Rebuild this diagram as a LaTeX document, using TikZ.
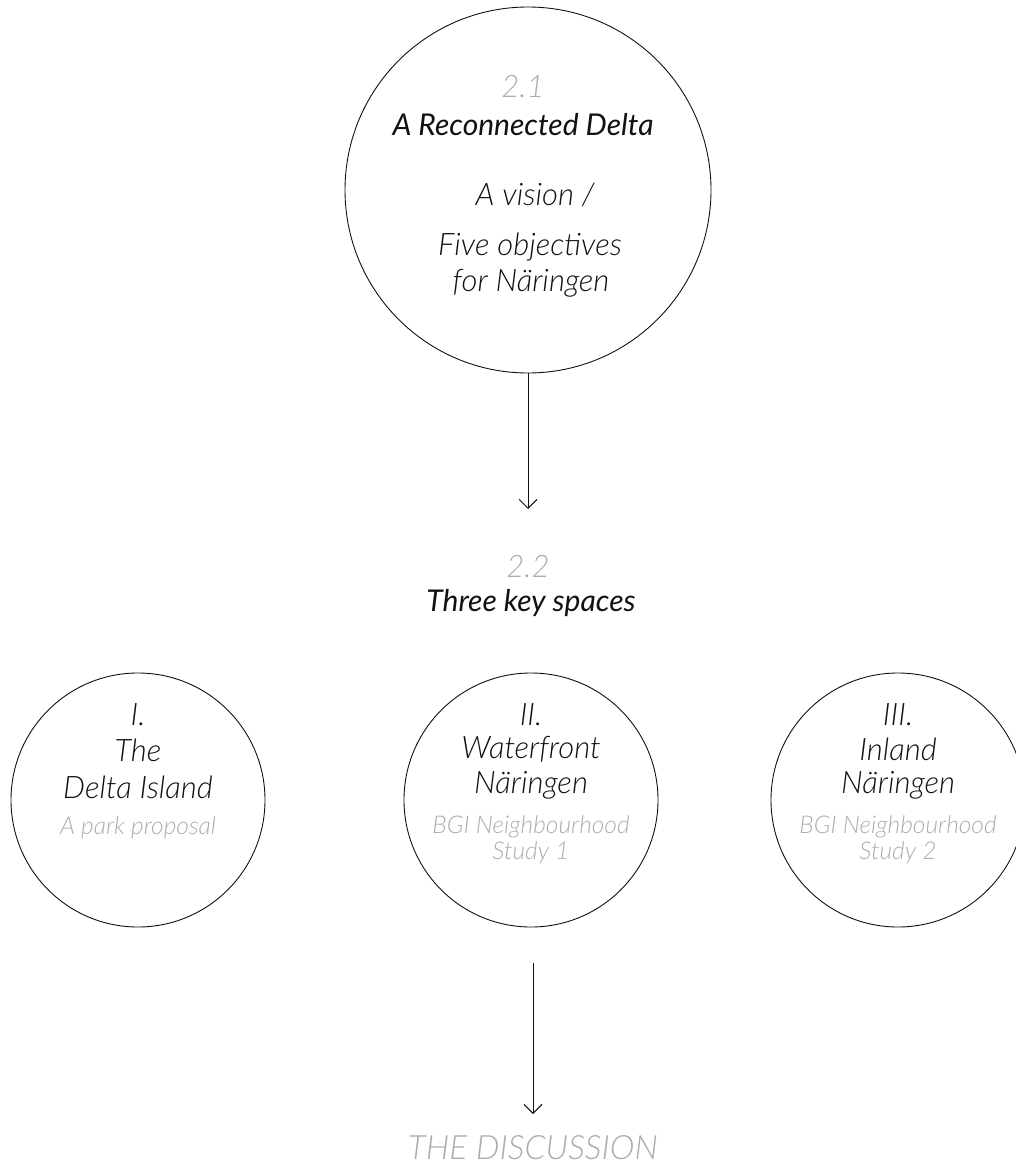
\documentclass[tikz,border=0pt]{standalone}
\usepackage{fontspec}
\setmainfont{Lato}[ItalicFont={* Light Italic}]
\newfontfamily\latoreg{Lato}[ItalicFont={* Italic}]
\usetikzlibrary{arrows.meta}
\definecolor{softgray}{HTML}{A9ACB2}
\definecolor{ink}{HTML}{111111}
\tikzset{
  ring/.style={draw=ink, line width=0.9pt, circle, inner sep=0pt},
  main/.style={font=\itshape\fontsize{31}{34}\selectfont, text=ink, align=center, inner sep=0pt},
  heading/.style={font=\latoreg\itshape\fontsize{30}{34}\selectfont, text=ink, align=center, inner sep=0pt},
  sub/.style={font=\itshape\fontsize{24.5}{28}\selectfont, text=softgray, align=center, inner sep=0pt},
  num/.style={font=\itshape\fontsize{31}{34}\selectfont, text=softgray, align=center, inner sep=0pt},
  flow/.style={draw=ink, line width=0.9pt, -{Straight Barb[length=9pt,width=18pt,line width=0.9pt]}}
}
\begin{document}
\begin{tikzpicture}[x=1pt,y=-1pt]
\useasboundingbox (0,0) rectangle (1016,1167);
% top circle
\node[ring, minimum size=366pt] (c0) at (528,190) {};
\node[num] (t21) at (523,87) {2.1};
\node[heading] (tdelta) at (523,125) {A Reconnected Delta};
\node[main] (tvision) at (535,195) {A vision /};
\node[main] (tfive) at (530,247) {Five objectives};
\node[main] (tfor) at (531,283) {for Näringen};
% arrow 1
\coordinate (a1) at (528,509);
\draw[flow] (c0.south) -- (a1);
% 2.2
\node[num] (t22) at (528,567) {2.2};
\node[heading] (tthree) at (531,603) {Three key spaces};
% three circles
\node[ring, minimum size=254pt] (cL) at (138,800) {};
\node[ring, minimum size=254pt] (cM) at (531,800) {};
\node[ring, minimum size=254pt] (cR) at (898,800) {};
% left texts
\node[main] (l1) at (138,715) {I.};
\node[main] (l2) at (138,750) {The};
\node[main] (l3) at (138,787) {Delta Island};
\node[sub] (l4) at (138,828) {A park proposal};
% middle texts
\node[main] (m1) at (531,715) {II.};
\node[main] (m2) at (531,749) {Waterfront};
\node[main] (m3) at (531,785) {Näringen};
\node[sub] (m4) at (531,827) {BGI Neighbourhood};
\node[sub] (m5) at (531,853) {Study 1};
% right texts
\node[main] (r1) at (898,715) {III.};
\node[main] (r2) at (898,749) {Inland};
\node[main] (r3) at (898,785) {Näringen};
\node[sub] (r4) at (898,827) {BGI Neighbourhood};
\node[sub] (r5) at (898,853) {Study 2};
% arrow 2
\coordinate (a2s) at (533,963);
\node[num, font=\itshape\fontsize{33.5}{36}\selectfont] (disc) at (533,1148) {THE DISCUSSION};
\draw[flow] (a2s) -- (disc.north |- 0,1114);
\end{tikzpicture}
\end{document}
